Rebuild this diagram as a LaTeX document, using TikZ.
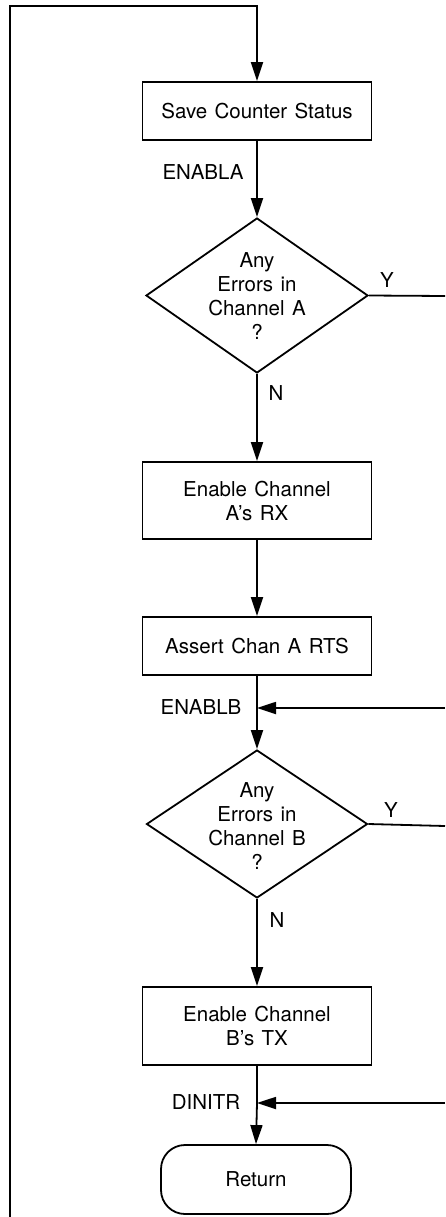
\documentclass[tikz,border=0pt]{standalone}
\usepackage{fontspec}
\setmainfont{TeX Gyre Heros}[WordSpace=1.3]
\usetikzlibrary{shapes.geometric,arrows.meta}
\begin{document}
\begin{tikzpicture}[x=1pt,y=-1pt,
  line width=1.8pt,
  txt/.style={font=\fontsize{20.5}{24}\selectfont},
  flow/.style={-{Triangle[length=19pt,width=12pt]}},
  box/.style={draw, txt, line width=1.9pt, minimum width=229pt, inner sep=0pt, align=center},
  decision/.style={draw, diamond, line width=1.8pt, inner sep=0pt},
  dtext/.style={txt, align=center, inner sep=0pt},
  lbl/.style={txt, inner sep=0pt},
  term/.style={draw, txt, line width=1.8pt, rounded corners=24pt, minimum width=190pt, minimum height=69pt, inner sep=0pt}
]
\useasboundingbox (0,0) rectangle (445,1217);

% nodes
\node[box, minimum height=58pt] (s1) at (257,111) {Save Counter Status};
\node[decision, minimum width=222pt, minimum height=155pt] (dA) at (257,295.5) {};
\node[dtext] (dAt) at (257,296) {Any\\Errors in\\Channel A\\?};
\node[box, minimum height=77pt] (s2) at (257,500.5) {Enable Channel\\A's RX};
\node[box, minimum height=58pt] (s3) at (257,646) {Assert Chan A RTS};
\node[decision, minimum width=221pt, minimum height=148pt] (dB) at (257,824) {};
\node[dtext] (dBt) at (257,826) {Any\\Errors in\\Channel B\\?};
\node[box, minimum height=78pt] (s4) at (257,1026) {Enable Channel\\B's TX};
\node[term] (ret) at (256,1179.5) {Return};

% labels
\node[lbl] (lA) at (203,172) {ENABLA};
\node[lbl] (yA) at (387,280) {Y};
\node[lbl] (nA) at (276,393) {N};
\node[lbl] (lB) at (201,707) {ENABLB};
\node[lbl] (yB) at (391,810) {Y};
\node[lbl] (nB) at (277,920) {N};
\node[lbl] (lC) at (206,1102) {DINITR};

% coordinates
\coordinate (loop) at (10,1217);
\coordinate (corner) at (10,6);
\coordinate (top) at (257,6);
\coordinate (jB) at (257,708);
\coordinate (inB) at (445,708);
\coordinate (jC) at (257,1103);
\coordinate (inC) at (445,1103);
\coordinate (outA) at (445,296);
\coordinate (outB) at (445,826);

% connectors
\draw[flow] (loop) -- (corner) -- (top) -- (s1.north);
\draw[flow] (s1.south) -- (dA.north);
\draw (dA.east) -- (outA);
\draw[flow] (dA.south) -- (s2.north);
\draw[flow] (s2.south) -- (s3.north);
\draw[flow] (s3.south) -- (jB) -- (dB.north);
\draw[flow] (inB) -- (jB);
\draw (dB.east) -- (outB);
\draw[flow] (dB.south) -- (s4.north);
\draw[flow] (s4.south) -- (jC) -- (ret.north);
\draw[flow] (inC) -- (jC);
\end{tikzpicture}
\end{document}
